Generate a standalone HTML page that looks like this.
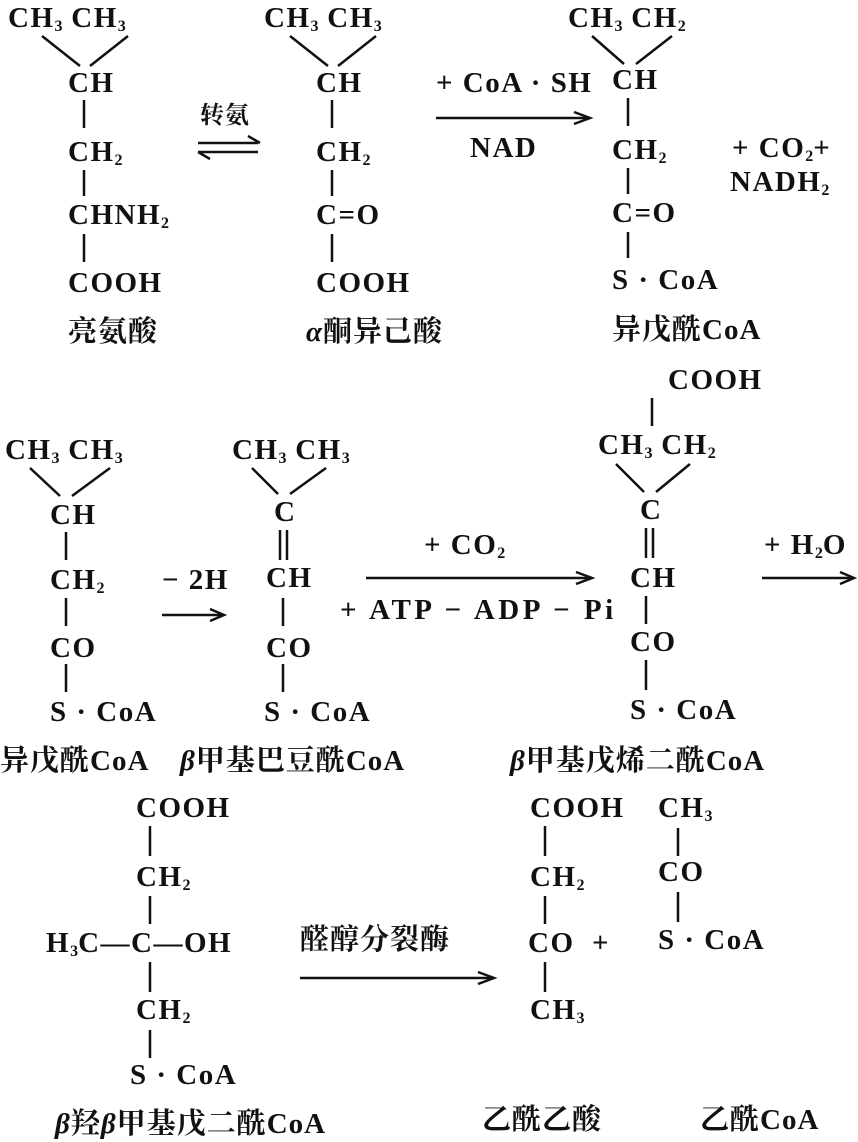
<!DOCTYPE html>
<html><head><meta charset="utf-8"><style>
body{margin:0;width:858px;height:1142px;background:#fff;position:relative;overflow:hidden}
.t{position:absolute;font-family:"Liberation Serif","Noto Serif CJK SC",serif;font-weight:bold;font-size:29px;line-height:28px;color:#111;white-space:nowrap;letter-spacing:1.5px}
.t sub{font-size:16px;vertical-align:-4px;letter-spacing:0}
.c{font-size:29px;letter-spacing:1px}
svg{position:absolute;left:0;top:0}
</style></head><body>
<svg width="858" height="1142" stroke="#111" stroke-width="2.5" fill="none">
<line x1="42" y1="36" x2="80" y2="66"/><line x1="128" y1="36" x2="90" y2="66"/>
<line x1="84" y1="100" x2="84" y2="128"/><line x1="84" y1="170" x2="84" y2="196"/><line x1="84" y1="234" x2="84" y2="262"/>
<line x1="198" y1="143" x2="258" y2="143"/><polyline points="248,136 260,143"/>
<line x1="198" y1="152" x2="258" y2="152"/><polyline points="198,152 210,159"/>
<line x1="290" y1="36" x2="328" y2="66"/><line x1="376" y1="36" x2="338" y2="66"/>
<line x1="332" y1="100" x2="332" y2="128"/><line x1="332" y1="170" x2="332" y2="196"/><line x1="332" y1="234" x2="332" y2="262"/>
<line x1="436" y1="118" x2="588" y2="118"/><polyline points="574,112 590,118 574,124"/>
<line x1="592" y1="36" x2="624" y2="64"/><line x1="672" y1="36" x2="636" y2="64"/>
<line x1="628" y1="98" x2="628" y2="126"/><line x1="628" y1="168" x2="628" y2="194"/><line x1="628" y1="232" x2="628" y2="258"/>
<line x1="30" y1="468" x2="60" y2="496"/><line x1="110" y1="468" x2="72" y2="496"/>
<line x1="66" y1="532" x2="66" y2="560"/><line x1="66" y1="598" x2="66" y2="626"/><line x1="66" y1="664" x2="66" y2="692"/>
<line x1="162" y1="615" x2="222" y2="615"/><polyline points="210,609 224,615 210,621"/>
<line x1="252" y1="468" x2="278" y2="494"/><line x1="326" y1="468" x2="290" y2="494"/>
<line x1="280" y1="530" x2="280" y2="560"/><line x1="287" y1="530" x2="287" y2="560"/>
<line x1="283" y1="598" x2="283" y2="626"/><line x1="283" y1="664" x2="283" y2="692"/>
<line x1="366" y1="578" x2="590" y2="578"/><polyline points="576,572 592,578 576,584"/>
<line x1="652" y1="398" x2="652" y2="426"/>
<line x1="616" y1="464" x2="644" y2="492"/><line x1="690" y1="464" x2="656" y2="492"/>
<line x1="646" y1="528" x2="646" y2="558"/><line x1="653" y1="528" x2="653" y2="558"/>
<line x1="646" y1="596" x2="646" y2="624"/><line x1="646" y1="660" x2="646" y2="690"/>
<line x1="762" y1="578" x2="852" y2="578"/><polyline points="840,572 854,578 840,584"/>
<line x1="150" y1="826" x2="150" y2="856"/><line x1="150" y1="896" x2="150" y2="924"/>
<line x1="150" y1="962" x2="150" y2="992"/><line x1="150" y1="1030" x2="150" y2="1058"/>
<line x1="300" y1="978" x2="492" y2="978"/><polyline points="478,972 494,978 478,984"/>
<line x1="545" y1="826" x2="545" y2="856"/><line x1="545" y1="896" x2="545" y2="924"/><line x1="545" y1="962" x2="545" y2="992"/>
<line x1="678" y1="828" x2="678" y2="856"/><line x1="678" y1="892" x2="678" y2="922"/>
</svg>

<div class="t" style="left:8px;top:4px">CH<sub>3</sub> CH<sub>3</sub></div>
<div class="t" style="left:68px;top:69px">CH</div>
<div class="t" style="left:68px;top:138px">CH<sub>2</sub></div>
<div class="t" style="left:68px;top:201px">CHNH<sub>2</sub></div>
<div class="t" style="left:68px;top:269px">COOH</div>
<div class="t c" style="left:68px;top:318px">亮氨酸</div>
<div class="t c" style="left:200px;top:102px;font-size:24px">转氨</div>

<div class="t" style="left:264px;top:4px">CH<sub>3</sub> CH<sub>3</sub></div>
<div class="t" style="left:316px;top:69px">CH</div>
<div class="t" style="left:316px;top:138px">CH<sub>2</sub></div>
<div class="t" style="left:316px;top:201px">C=O</div>
<div class="t" style="left:316px;top:269px">COOH</div>
<div class="t c" style="left:306px;top:318px"><i>α</i>酮异己酸</div>

<div class="t" style="left:436px;top:69px">+ CoA · SH</div>
<div class="t" style="left:470px;top:134px">NAD</div>

<div class="t" style="left:568px;top:4px">CH<sub>3</sub> CH<sub>2</sub></div>
<div class="t" style="left:612px;top:66px">CH</div>
<div class="t" style="left:612px;top:136px">CH<sub>2</sub></div>
<div class="t" style="left:612px;top:199px">C=O</div>
<div class="t" style="left:612px;top:266px">S · CoA</div>
<div class="t c" style="left:612px;top:316px">异戊酰CoA</div>
<div class="t" style="left:732px;top:134px">+ CO<sub>2</sub>+</div>
<div class="t" style="left:730px;top:168px">NADH<sub>2</sub></div>

<div class="t" style="left:668px;top:366px">COOH</div>
<div class="t" style="left:5px;top:436px">CH<sub>3</sub> CH<sub>3</sub></div>
<div class="t" style="left:50px;top:501px">CH</div>
<div class="t" style="left:50px;top:566px">CH<sub>2</sub></div>
<div class="t" style="left:50px;top:634px">CO</div>
<div class="t" style="left:50px;top:698px">S · CoA</div>
<div class="t c" style="left:0px;top:747px">异戊酰CoA</div>
<div class="t" style="left:162px;top:566px">− 2H</div>

<div class="t" style="left:232px;top:436px">CH<sub>3</sub> CH<sub>3</sub></div>
<div class="t" style="left:274px;top:498px">C</div>
<div class="t" style="left:266px;top:564px">CH</div>
<div class="t" style="left:266px;top:634px">CO</div>
<div class="t" style="left:264px;top:698px">S · CoA</div>
<div class="t c" style="left:180px;top:747px"><i>β</i>甲基巴豆酰CoA</div>

<div class="t" style="left:424px;top:531px">+ CO<sub>2</sub></div>
<div class="t" style="left:340px;top:596px;letter-spacing:3.5px">+ ATP − ADP − Pi</div>

<div class="t" style="left:598px;top:431px">CH<sub>3</sub> CH<sub>2</sub></div>
<div class="t" style="left:640px;top:496px">C</div>
<div class="t" style="left:630px;top:564px">CH</div>
<div class="t" style="left:630px;top:628px">CO</div>
<div class="t" style="left:630px;top:696px">S · CoA</div>
<div class="t c" style="left:510px;top:747px"><i>β</i>甲基戊烯二酰CoA</div>
<div class="t" style="left:764px;top:531px">+ H<sub>2</sub>O</div>

<div class="t" style="left:136px;top:794px">COOH</div>
<div class="t" style="left:136px;top:863px">CH<sub>2</sub></div>
<div class="t" style="left:46px;top:929px">H<sub>3</sub>C—C—OH</div>
<div class="t" style="left:136px;top:996px">CH<sub>2</sub></div>
<div class="t" style="left:130px;top:1061px">S · CoA</div>
<div class="t c" style="left:55px;top:1110px"><i>β</i>羟<i>β</i>甲基戊二酰CoA</div>
<div class="t c" style="left:300px;top:926px">醛醇分裂酶</div>

<div class="t" style="left:530px;top:794px">COOH</div>
<div class="t" style="left:530px;top:863px">CH<sub>2</sub></div>
<div class="t" style="left:528px;top:929px">CO &nbsp;+</div>
<div class="t" style="left:530px;top:996px">CH<sub>3</sub></div>
<div class="t" style="left:658px;top:794px">CH<sub>3</sub></div>
<div class="t" style="left:658px;top:858px">CO</div>
<div class="t" style="left:658px;top:926px">S · CoA</div>
<div class="t c" style="left:482px;top:1106px">乙酰乙酸</div>
<div class="t c" style="left:700px;top:1106px">乙酰CoA</div>
</body></html>
